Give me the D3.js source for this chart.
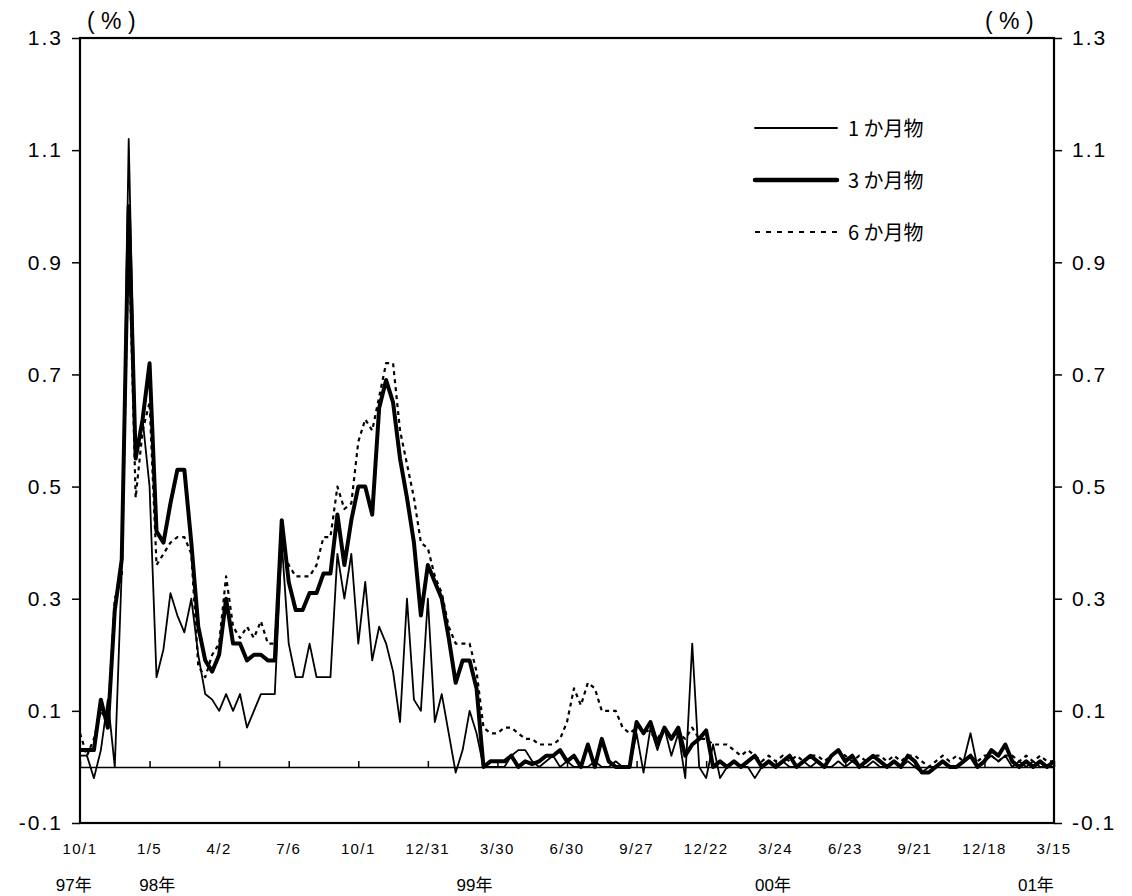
<!DOCTYPE html>
<html><head><meta charset="utf-8">
<script src="https://cdn.jsdelivr.net/npm/d3@7"></script>
<style>body{margin:0;background:#fff}svg{display:block}</style>
</head><body><svg id="c" width="1132" height="896"></svg>
<script>
// x grid: index 0..140, one date tick every 10 steps
const tickIdx = [0,10,20,30,40,50,60,70,80,90,100,110,120,130,140];
const tickLabels = ["10/1","1/5","4/2","7/6","10/1","12/31","3/30","6/30","9/27","12/22","3/24","6/23","9/21","12/18","3/15"];
const yearPos = [-0.9, 11.1, 56.7, 99.6, 137.4];
const yearLabels = ["97年","98年","99年","00年","01年"];
const yTicks = [-0.1,0.1,0.3,0.5,0.7,0.9,1.1,1.3];
const seriesNames = ["1 か月物","3 か月物","6 か月物"];

const m1 = [0.02,0.02,-0.02,0.03,0.12,0.0,0.35,1.12,0.55,0.62,
 0.5,0.16,0.21,0.31,0.27,0.24,0.3,0.2,0.13,0.12,
 0.1,0.13,0.1,0.13,0.07,0.1,0.13,0.13,0.13,0.4,
 0.22,0.16,0.16,0.22,0.16,0.16,0.16,0.38,0.3,0.38,
 0.22,0.33,0.19,0.25,0.22,0.17,0.08,0.3,0.12,0.1,
 0.3,0.08,0.13,0.06,-0.01,0.03,0.1,0.06,0.0,0.0,
 0.0,0.0,0.02,0.03,0.03,0.01,0.0,0.01,0.02,0.0,
 0.01,0.0,0.0,0.0,0.01,0.0,0.0,0.01,0.0,0.0,
 0.06,-0.01,0.07,0.03,0.07,0.02,0.06,-0.02,0.22,0.0,
 -0.02,0.04,-0.02,0.0,0.01,0.0,0.0,-0.02,0.0,0.01,
 0.0,0.01,0.0,0.0,0.01,0.0,0.01,0.0,0.0,0.01,
 0.0,0.01,0.0,0.0,0.01,0.0,0.0,0.01,0.0,0.01,
 0.0,-0.01,0.0,0.0,0.01,0.0,0.0,0.01,0.06,0.0,
 0.01,0.02,0.01,0.02,0.0,0.01,0.0,0.01,0.0,0.0,0.0];

const m3 = [0.03,0.03,0.03,0.12,0.07,0.28,0.37,1.0,0.55,0.62,
 0.72,0.42,0.40,0.47,0.53,0.53,0.40,0.25,0.19,0.17,
 0.2,0.3,0.22,0.22,0.19,0.2,0.2,0.19,0.19,0.44,
 0.33,0.28,0.28,0.31,0.31,0.345,0.345,0.45,0.36,0.44,
 0.5,0.5,0.45,0.64,0.69,0.65,0.55,0.48,0.4,0.27,
 0.36,0.33,0.3,0.23,0.15,0.19,0.19,0.14,0.0,0.01,
 0.01,0.01,0.02,0.0,0.01,0.005,0.01,0.02,0.02,0.03,
 0.01,0.02,0.0,0.04,0.0,0.05,0.01,0.0,0.0,0.0,
 0.08,0.06,0.08,0.04,0.07,0.05,0.07,0.02,0.04,0.05,
 0.065,0.0,0.01,0.0,0.01,0.0,0.01,0.02,0.0,0.01,
 0.0,0.01,0.02,0.0,0.01,0.02,0.01,0.0,0.02,0.03,
 0.01,0.02,0.0,0.01,0.02,0.01,0.0,0.01,0.0,0.02,
 0.01,-0.01,-0.01,0.0,0.01,0.0,0.0,0.01,0.02,0.0,
 0.01,0.03,0.02,0.04,0.01,0.0,0.01,0.0,0.01,0.0,0.01];

const m6 = [0.06,0.02,0.05,0.1,0.08,0.3,0.34,0.95,0.48,0.6,
 0.65,0.36,0.38,0.4,0.41,0.41,0.38,0.18,0.16,0.2,
 0.22,0.34,0.25,0.23,0.25,0.23,0.26,0.22,0.22,0.4,
 0.36,0.34,0.34,0.34,0.36,0.41,0.41,0.5,0.46,0.47,
 0.58,0.62,0.6,0.66,0.72,0.72,0.6,0.54,0.48,0.4,
 0.39,0.34,0.31,0.25,0.22,0.22,0.22,0.17,0.07,0.06,
 0.06,0.07,0.07,0.06,0.05,0.05,0.04,0.04,0.04,0.05,
 0.08,0.14,0.11,0.15,0.14,0.1,0.1,0.1,0.07,0.06,
 0.07,0.07,0.06,0.05,0.07,0.05,0.06,0.05,0.07,0.05,
 0.05,0.04,0.04,0.04,0.03,0.02,0.03,0.02,0.01,0.02,
 0.01,0.02,0.01,0.02,0.01,0.02,0.02,0.01,0.02,0.03,
 0.02,0.01,0.02,0.01,0.02,0.02,0.01,0.02,0.01,0.02,
 0.02,0.01,0.0,0.01,0.02,0.01,0.02,0.01,0.02,0.01,
 0.02,0.02,0.01,0.02,0.02,0.01,0.02,0.01,0.02,0.01,0.01];

const svg = d3.select("#c");
const L = 80, R = 1054, T = 38, B = 823;
const x = d3.scaleLinear().domain([0,140]).range([L,R]);
const y = d3.scaleLinear().domain([-0.1,1.3]).range([B,T]);
const num = "'Liberation Sans', Arial, 'Noto Sans CJK JP', sans-serif";
const jp = "'Noto Sans CJK JP', 'Liberation Sans', sans-serif";

// y axes
const fmt = d => d.toFixed(1);
const yl = svg.append("g").attr("transform",`translate(${L},0)`)
  .call(d3.axisLeft(y).tickValues(yTicks).tickFormat(fmt).tickSize(8).tickPadding(9));
const yr = svg.append("g").attr("transform",`translate(${R},0)`)
  .call(d3.axisRight(y).tickValues(yTicks).tickFormat(fmt).tickSize(8).tickPadding(10));
[yl,yr].forEach(g=>{
  g.select(".domain").remove();
  g.selectAll("line").attr("stroke","#000").attr("stroke-width",1.5);
  g.selectAll("text").attr("font-family",num).attr("font-size",21).attr("letter-spacing","2px").attr("fill","#000");
});

// frame
svg.append("rect").attr("x",L).attr("y",T).attr("width",R-L).attr("height",B-T)
  .attr("fill","none").attr("stroke","#000").attr("stroke-width",2.2);

// zero line with date ticks
const xa = svg.append("g").attr("transform",`translate(0,${y(0)})`)
  .call(d3.axisTop(x).tickValues(tickIdx).tickFormat("").tickSize(6).tickSizeOuter(0));
xa.select(".domain").attr("stroke","#000").attr("stroke-width",1.6);
xa.selectAll("line").attr("stroke","#000").attr("stroke-width",1.5);

// date labels
svg.append("g").selectAll("text").data(tickIdx).join("text")
  .attr("x",d=>x(d)).attr("y",854).attr("text-anchor","middle")
  .attr("font-family",num).attr("font-size",15).attr("letter-spacing","1.4px")
  .text((d,i)=>tickLabels[i]);
// year labels
svg.append("g").selectAll("text").data(yearPos).join("text")
  .attr("x",d=>x(d)).attr("y",891).attr("text-anchor","middle")
  .attr("font-family",num).attr("font-size",17)
  .text((d,i)=>yearLabels[i]);

// unit labels
svg.append("text").attr("x",87).attr("y",29)
  .attr("font-family",num).attr("font-size",23).text("( % )");
svg.append("text").attr("x",985).attr("y",29)
  .attr("font-family",num).attr("font-size",23).text("( % )");

// lines
const line = d3.line().x((d,i)=>x(i)).y(d=>y(d));
const styles = [
  {data:m6, w:2.2, dash:"4,4"},
  {data:m1, w:1.8, dash:null},
  {data:m3, w:4, dash:null}
];
styles.forEach(s=>{
  svg.append("path").datum(s.data).attr("d",line)
    .attr("fill","none").attr("stroke","#000").attr("stroke-width",s.w)
    .attr("stroke-linejoin","round")
    .attr("stroke-dasharray",s.dash);
});

// legend
const leg = [{w:1.8,dash:null},{w:4.5,dash:null},{w:2.2,dash:"5,6"}];
leg.forEach((s,i)=>{
  const yy = 128 + i*52;
  svg.append("line").attr("x1",755).attr("x2",837).attr("y1",yy).attr("y2",yy)
    .attr("stroke","#000").attr("stroke-width",s.w).attr("stroke-linecap",s.dash?"butt":"round")
    .attr("stroke-dasharray",s.dash);
  svg.append("text").attr("x",848).attr("y",yy+8).attr("font-family",jp).attr("font-size",20)
    .text(seriesNames[i]);
});
</script></body></html>
